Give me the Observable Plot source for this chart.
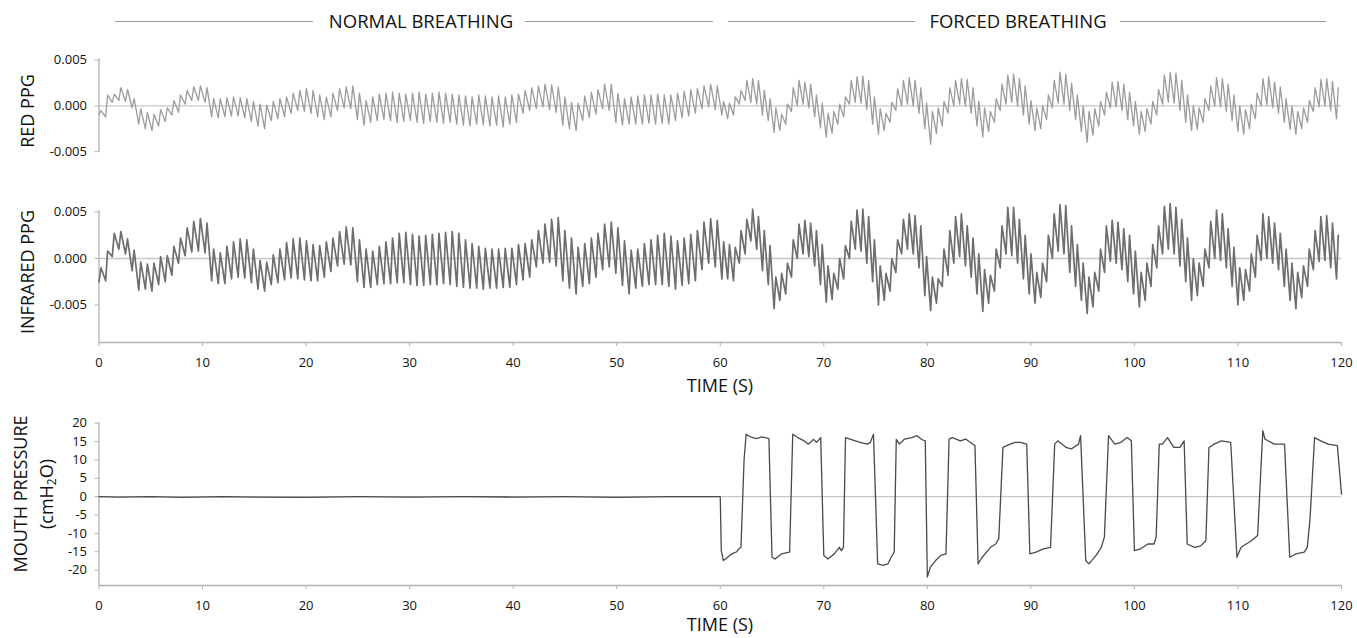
<!DOCTYPE html>
<html>
<head>
<meta charset="utf-8">
<script src="https://cdn.jsdelivr.net/npm/d3@7"></script>
<script src="https://cdn.jsdelivr.net/npm/@observablehq/plot@0.6"></script>
<style>
  html, body { margin: 0; padding: 0; background: #fff; overflow: hidden; }
  #wrap { position: relative; width: 1357px; height: 638px; overflow: hidden; font-family: "Open Sans", "DejaVu Sans", sans-serif; color: #111; }
  .panel { position: absolute; left: 0; }
  .hl { position: absolute; top: 21px; height: 1px; background: #9a9a9a; }
  .ht { position: absolute; top: 21px; transform: translate(-50%, -50%); font-size: 18.5px; line-height: 1; white-space: nowrap; }
  .lab { position: absolute; transform: translate(-50%, -50%); font-size: 18px; line-height: 1.2; white-space: nowrap; }
  .rot { position: absolute; transform: translate(-50%, -50%) rotate(-90deg); font-size: 18px; line-height: 1; white-space: nowrap; }
  sub { font-size: 12px; vertical-align: -3px; line-height: 0; }
</style>
</head>
<body>
<div id="wrap">
  <div class="hl" style="left:115px;width:198px"></div>
  <div class="ht" style="left:421px">NORMAL BREATHING</div>
  <div class="hl" style="left:525px;width:188px"></div>
  <div class="hl" style="left:728px;width:187px"></div>
  <div class="ht" style="left:1018px">FORCED BREATHING</div>
  <div class="hl" style="left:1120px;width:206px"></div>

  <div id="p1" class="panel" style="top:48px"></div>
  <div id="p2" class="panel" style="top:200px"></div>
  <div id="p3" class="panel" style="top:410px"></div>

  <div class="rot" style="left:27px;top:111px">RED PPG</div>
  <div class="rot" style="left:27px;top:272px">INFRARED PPG</div>
  <div class="rot" style="left:20px;top:494px">MOUTH PRESSURE</div>
  <div class="rot" style="left:46px;top:494px">(cmH<sub>2</sub>O)</div>
  <div class="lab" style="left:720px;top:386px">TIME (S)</div>
  <div class="lab" style="left:720px;top:625px">TIME (S)</div>
</div>
<script>
// ---------- tick labels ----------
const xTicks = [0, 10, 20, 30, 40, 50, 60, 70, 80, 90, 100, 110, 120];
const ppgTicks = [-0.005, 0, 0.005];
const pressureTicks = [-20, -15, -10, -5, 0, 5, 10, 15, 20];

// ---------- heart-beat timing (s) ----------
const beatStartNormal = 0, beatPeriodNormal = 0.64;
const beatStartForced = 60.16, beatPeriodForced = 0.56;

// ---------- INFRARED PPG : per-beat trough / peak values ----------
const irTroughNormal = [
-25e-4,-24e-4,2e-4,10e-4,5e-4,-13e-4,-34e-4,-33e-4,-35e-4,-28e-4,
-25e-4,-18e-4,-5e-4,3e-4,7e-4,8e-4,6e-4,-24e-4,-27e-4,-27e-4,
-22e-4,-20e-4,-21e-4,-26e-4,-33e-4,-35e-4,-28e-4,-26e-4,-23e-4,-21e-4,
-22e-4,-23e-4,-24e-4,-24e-4,-20e-4,-14e-4,-8e-4,-6e-4,-7e-4,-25e-4,
-31e-4,-31e-4,-28e-4,-27e-4,-27e-4,-26e-4,-26e-4,-28e-4,-29e-4,-29e-4,
-28e-4,-28e-4,-27e-4,-28e-4,-30e-4,-31e-4,-32e-4,-32e-4,-33e-4,-32e-4,
-32e-4,-31e-4,-31e-4,-28e-4,-23e-4,-20e-4,-9e-4,-5e-4,-4e-4,-8e-4,
-24e-4,-32e-4,-38e-4,-30e-4,-27e-4,-20e-4,-12e-4,-9e-4,-16e-4,-29e-4,
-38e-4,-32e-4,-30e-4,-28e-4,-28e-4,-28e-4,-30e-4,-33e-4,-29e-4,-27e-4,
-24e-4,-12e-4,-5e-4,-9e-4];
const irPeakNormal = [
-10e-4,8e-4,27e-4,29e-4,21e-4,9e-4,-4e-4,-6e-4,-5e-4,2e-4,
3e-4,13e-4,22e-4,33e-4,40e-4,43e-4,38e-4,10e-4,6e-4,13e-4,
18e-4,21e-4,20e-4,10e-4,-2e-4,-4e-4,4e-4,10e-4,17e-4,21e-4,
22e-4,19e-4,15e-4,14e-4,18e-4,22e-4,29e-4,34e-4,33e-4,20e-4,
10e-4,8e-4,13e-4,18e-4,22e-4,27e-4,28e-4,26e-4,24e-4,25e-4,
26e-4,27e-4,28e-4,29e-4,27e-4,20e-4,16e-4,13e-4,11e-4,10e-4,
10e-4,11e-4,11e-4,15e-4,16e-4,20e-4,30e-4,37e-4,42e-4,44e-4,
30e-4,22e-4,12e-4,16e-4,22e-4,27e-4,37e-4,39e-4,33e-4,19e-4,
9e-4,10e-4,16e-4,20e-4,25e-4,27e-4,24e-4,19e-4,22e-4,26e-4,
30e-4,39e-4,43e-4,41e-4];
const irTroughForced = [
-22e-4,-22e-4,-24e-4,-5e-4,5e-4,19e-4,10e-4,-13e-4,-28e-4,-54e-4,
-45e-4,-38e-4,-20e-4,0,5e-4,2e-4,-8e-4,-28e-4,-47e-4,-44e-4,
-33e-4,-22e-4,0,10e-4,8e-4,-5e-4,-25e-4,-50e-4,-45e-4,-35e-4,
-15e-4,5e-4,10e-4,5e-4,-10e-4,-40e-4,-56e-4,-48e-4,-30e-4,-18e-4,
-5e-4,2e-4,-8e-4,-20e-4,-38e-4,-57e-4,-48e-4,-35e-4,-10e-4,5e-4,
3e-4,-5e-4,-22e-4,-38e-4,-48e-4,-42e-4,-25e-4,0,8e-4,5e-4,
-15e-4,-30e-4,-45e-4,-59e-4,-52e-4,-35e-4,-15e-4,-3e-4,-5e-4,-12e-4,
-25e-4,-38e-4,-52e-4,-45e-4,-30e-4,-10e-4,5e-4,10e-4,5e-4,-8e-4,
-25e-4,-45e-4,-40e-4,-30e-4,-10e-4,0,-2e-4,-10e-4,-30e-4,-50e-4,
-45e-4,-35e-4,-20e-4,-2e-4,0,-5e-4,-12e-4,-30e-4,-45e-4,-54e-4,
-42e-4,-30e-4,-12e-4,-3e-4,-2e-4,-10e-4,-22e-4];
const irPeakForced = [
18e-4,15e-4,12e-4,30e-4,42e-4,53e-4,45e-4,30e-4,14e-4,-20e-4,
-16e-4,-5e-4,20e-4,37e-4,41e-4,38e-4,30e-4,15e-4,-8e-4,-16e-4,
0,14e-4,40e-4,52e-4,53e-4,45e-4,20e-4,-8e-4,-16e-4,0,
20e-4,42e-4,48e-4,46e-4,35e-4,2e-4,-20e-4,-22e-4,10e-4,30e-4,
45e-4,48e-4,35e-4,22e-4,5e-4,-12e-4,-18e-4,10e-4,35e-4,55e-4,
55e-4,42e-4,25e-4,5e-4,-15e-4,-5e-4,25e-4,48e-4,58e-4,57e-4,
35e-4,15e-4,-5e-4,-20e-4,-15e-4,10e-4,35e-4,41e-4,39e-4,32e-4,
25e-4,8e-4,-15e-4,-5e-4,15e-4,35e-4,56e-4,59e-4,55e-4,42e-4,
22e-4,0,-5e-4,10e-4,40e-4,52e-4,48e-4,32e-4,12e-4,-10e-4,
-12e-4,5e-4,25e-4,48e-4,45e-4,38e-4,27e-4,10e-4,-5e-4,-15e-4,
-8e-4,10e-4,30e-4,45e-4,46e-4,38e-4,25e-4];

// ---------- RED PPG : per-beat trough / peak values ----------
const redTroughNormal = [
-10e-4,-12e-4,4e-4,6e-4,5e-4,-2e-4,-20e-4,-25e-4,-27e-4,-22e-4,
-17e-4,-10e-4,-7e-4,2e-4,6e-4,6e-4,4e-4,-12e-4,-13e-4,-12e-4,
-11e-4,-11e-4,-13e-4,-17e-4,-22e-4,-25e-4,-16e-4,-14e-4,-12e-4,-8e-4,
-5e-4,-6e-4,-8e-4,-12e-4,-15e-4,-12e-4,-5e-4,-2e-4,-3e-4,-15e-4,
-21e-4,-18e-4,-16e-4,-15e-4,-16e-4,-18e-4,-17e-4,-16e-4,-18e-4,-19e-4,
-17e-4,-18e-4,-19e-4,-18e-4,-20e-4,-21e-4,-22e-4,-20e-4,-21e-4,-22e-4,
-21e-4,-23e-4,-20e-4,-18e-4,-8e-4,-5e-4,-3e-4,-1e-4,-4e-4,-7e-4,
-21e-4,-25e-4,-27e-4,-16e-4,-13e-4,-9e-4,-3e-4,-5e-4,-18e-4,-21e-4,
-20e-4,-20e-4,-20e-4,-19e-4,-20e-4,-19e-4,-20e-4,-16e-4,-13e-4,-11e-4,
-8e-4,-3e-4,-1e-4,-4e-4];
const redPeakNormal = [
-5e-4,12e-4,13e-4,20e-4,18e-4,8e-4,-3e-4,-7e-4,-9e-4,-4e-4,
-2e-4,6e-4,12e-4,17e-4,21e-4,22e-4,20e-4,8e-4,8e-4,9e-4,
10e-4,9e-4,8e-4,5e-4,2e-4,1e-4,5e-4,8e-4,10e-4,14e-4,
17e-4,19e-4,17e-4,12e-4,10e-4,14e-4,19e-4,21e-4,22e-4,14e-4,
6e-4,10e-4,13e-4,14e-4,15e-4,14e-4,13e-4,14e-4,15e-4,13e-4,
14e-4,15e-4,14e-4,13e-4,12e-4,11e-4,10e-4,12e-4,11e-4,10e-4,
11e-4,10e-4,12e-4,13e-4,17e-4,20e-4,22e-4,24e-4,23e-4,21e-4,
10e-4,4e-4,3e-4,11e-4,15e-4,18e-4,24e-4,24e-4,14e-4,8e-4,
10e-4,11e-4,12e-4,12e-4,13e-4,12e-4,12e-4,14e-4,16e-4,18e-4,
19e-4,22e-4,24e-4,22e-4];
const redTroughForced = [
-10e-4,-14e-4,-10e-4,2e-4,6e-4,4e-4,2e-4,-10e-4,-16e-4,-29e-4,
-27e-4,-20e-4,-6e-4,0,2e-4,-2e-4,-12e-4,-24e-4,-34e-4,-30e-4,
-20e-4,-12e-4,2e-4,4e-4,3e-4,-4e-4,-20e-4,-31e-4,-27e-4,-18e-4,
-5e-4,0,2e-4,0,-8e-4,-25e-4,-42e-4,-30e-4,-22e-4,-8e-4,
0,2e-4,0,-8e-4,-22e-4,-34e-4,-28e-4,-18e-4,-5e-4,2e-4,
4e-4,0,-10e-4,-20e-4,-27e-4,-25e-4,-15e-4,-2e-4,3e-4,2e-4,
-5e-4,-15e-4,-28e-4,-40e-4,-32e-4,-22e-4,-10e-4,-2e-4,-1e-4,-5e-4,
-15e-4,-22e-4,-31e-4,-28e-4,-20e-4,-10e-4,2e-4,4e-4,3e-4,-5e-4,
-18e-4,-27e-4,-26e-4,-18e-4,-5e-4,0,-1e-4,-6e-4,-16e-4,-28e-4,
-31e-4,-25e-4,-14e-4,0,1e-4,-2e-4,-8e-4,-18e-4,-26e-4,-31e-4,
-25e-4,-18e-4,-6e-4,-1e-4,0,-5e-4,-14e-4];
const redPeakForced = [
5e-4,3e-4,10e-4,17e-4,28e-4,30e-4,28e-4,17e-4,8e-4,-2e-4,
-9e-4,2e-4,20e-4,28e-4,26e-4,24e-4,12e-4,3e-4,-8e-4,-6e-4,
2e-4,10e-4,28e-4,32e-4,33e-4,28e-4,10e-4,-3e-4,-8e-4,4e-4,
19e-4,28e-4,31e-4,28e-4,20e-4,3e-4,-6e-4,-2e-4,5e-4,20e-4,
28e-4,30e-4,29e-4,20e-4,5e-4,-2e-4,-6e-4,8e-4,24e-4,34e-4,
35e-4,30e-4,22e-4,6e-4,-2e-4,0,12e-4,28e-4,37e-4,35e-4,
25e-4,12e-4,0,-6e-4,-3e-4,5e-4,15e-4,26e-4,27e-4,24e-4,
15e-4,5e-4,-6e-4,-3e-4,5e-4,18e-4,34e-4,37e-4,36e-4,28e-4,
12e-4,0,-2e-4,8e-4,22e-4,31e-4,30e-4,24e-4,12e-4,0,
-4e-4,2e-4,14e-4,30e-4,32e-4,26e-4,21e-4,8e-4,0,-6e-4,
-2e-4,6e-4,20e-4,29e-4,30e-4,27e-4,20e-4];

// ---------- MOUTH PRESSURE (cmH2O): [time s, value] ----------
const mouthPressure = [
[0,0],[2,-0.1],[5,0],[8,-0.2],[12,0],[15,-0.1],[20,-0.2],[25,0],[30,-0.1],[35,0],[40,-0.1],[45,0],[50,-0.2],[55,0],[59.9,0],
[60.0,0],[60.1,-14.7],[60.3,-17.4],[60.6,-16.8],[61.0,-15.8],[61.3,-15.4],[61.6,-15.0],[61.8,-14.2],[62.0,-13.8],[62.3,10],[62.5,17],[62.9,16.3],[63.5,15.8],[64.0,16.3],[64.7,15.8],
[65.0,-16.5],[65.3,-17.0],[65.9,-15.6],[66.7,-15.1],[67.0,17],[67.5,16.1],[68.1,15.2],[68.5,14.3],[69.0,15.6],[69.3,14.8],[69.7,16.1],
[70.0,-16],[70.4,-17],[71.0,-15.6],[71.5,-13.8],[71.7,-14.7],[71.9,-13.8],[72.1,16.1],[72.6,15.6],[73.5,14.8],[74.2,14.3],[74.5,14.8],[74.8,17],
[75.2,-18.3],[75.7,-18.7],[76.2,-18.3],[76.5,-16.5],[76.8,-15.1],[77.0,15.6],[77.3,14.3],[77.8,15.7],[78.5,16.1],[79.0,16.6],[79.5,15.5],[79.8,15.2],
[80.0,-21.9],[80.3,-19.2],[80.8,-17.4],[81.3,-16],[81.8,-15.6],[82.1,15.7],[82.4,16.1],[83.2,15.2],[83.7,15.7],[84.4,14.3],[84.6,13.9],
[84.9,-18.3],[85.3,-16.5],[86.1,-13.8],[86.6,-12.9],[86.9,-11.5],[87.3,13.4],[88.0,14.3],[88.5,14.8],[89.0,14.8],[89.6,14.3],
[89.9,-15.6],[90.5,-15.1],[91.2,-14.2],[91.9,-13.8],[92.3,14.3],[92.6,15.2],[93.4,13.4],[93.9,13.0],[94.6,14.3],[94.8,16.6],
[95.3,-17.4],[95.6,-18.3],[96.3,-16.0],[96.8,-13.8],[97.1,-11.0],[97.5,16.6],[98.1,14.3],[98.7,14.8],[99.3,16.1],[99.7,15.2],
[100.0,-14.7],[100.6,-14.2],[101.3,-12.9],[101.9,-12.9],[102.1,-11.0],[102.4,14.3],[102.7,14.3],[103.2,16.1],[103.8,13.4],[104.4,13.4],[104.8,15.2],
[105.1,-12.9],[105.8,-13.8],[106.4,-13.4],[106.9,-12.0],[107.2,13.4],[107.7,14.3],[108.4,15.2],[109.3,14.8],
[109.9,-16.5],[110.3,-13.8],[111.3,-12.0],[111.9,-10.6],[112.4,18.0],[112.6,15.7],[113.5,14.3],[114.5,14.3],
[115.0,-16.5],[115.6,-15.6],[116.4,-15.1],[116.7,-13.8],[116.96,-6.1],[117.4,16.1],[118.0,15.2],[118.7,14.3],[119.6,13.9],[120.0,0.7]
];

// ---------- build tables ----------
const PEAK_PHASE = 0.3; // fraction of the beat at which the peak occurs
function beatSeries(start, period, troughs, peaks) {
  const out = [];
  troughs.forEach((q, i) => {
    const t = start + i * period;
    out.push({t, v: q});
    out.push({t: t + period * PEAK_PHASE, v: peaks[i]});
  });
  return out;
}
const redData = [
  ...beatSeries(beatStartNormal, beatPeriodNormal, redTroughNormal, redPeakNormal),
  ...beatSeries(beatStartForced, beatPeriodForced, redTroughForced, redPeakForced)
];
const irData = [
  ...beatSeries(beatStartNormal, beatPeriodNormal, irTroughNormal, irPeakNormal),
  ...beatSeries(beatStartForced, beatPeriodForced, irTroughForced, irPeakForced)
];
const pressureData = mouthPressure.map(([t, v]) => ({t, v}));

// ---------- styling ----------
const W = 1357;
const FONT = '"Open Sans", "DejaVu Sans", sans-serif';
const AXIS = "#b2b2b2";
const ZERO = "#c8c8c8";
const style = {fontFamily: FONT, fontSize: "13px", color: "#111", background: "transparent", overflow: "visible"};

function panel({data, stroke, strokeWidth, yDomain, yTicks, yFormat, height, marginTop, marginBottom, showX}) {
  const marks = [
    Plot.ruleY([0], {stroke: ZERO, strokeWidth: 1.3}),
    Plot.ruleX([0], {stroke: AXIS, strokeWidth: 1.3}),
    Plot.axisY(yTicks, {anchor: "left", tickSize: 4, tickPadding: 8, tickFormat: yFormat, stroke: AXIS, fill: "#111", label: null})
  ];
  if (showX) {
    marks.push(Plot.ruleY([yDomain[0]], {stroke: AXIS, strokeWidth: 1.3}));
    marks.push(Plot.axisX(xTicks, {anchor: "bottom", tickSize: 4, tickPadding: 11, tickFormat: d => String(d), stroke: AXIS, fill: "#111", label: null}));
  }
  marks.push(Plot.line(data, {x: "t", y: "v", stroke, strokeWidth, strokeLinejoin: "round"}));
  return Plot.plot({
    width: W, height, marginLeft: 98.5, marginRight: 16, marginTop, marginBottom,
    x: showX ? {domain: [0, 120]} : {domain: [0, 120], axis: null},
    y: {domain: yDomain},
    style,
    marks
  });
}

document.getElementById("p1").append(panel({
  data: redData, stroke: "#9c9c9c", strokeWidth: 1.3,
  yDomain: [-0.0051, 0.0052], yTicks: ppgTicks, yFormat: d => d.toFixed(3),
  height: 114, marginTop: 10, marginBottom: 10, showX: false
}));
document.getElementById("p2").append(panel({
  data: irData, stroke: "#6e6e6e", strokeWidth: 1.7,
  yDomain: [-0.00903, 0.00516], yTicks: ppgTicks, yFormat: d => d.toFixed(3),
  height: 200, marginTop: 10, marginBottom: 58, showX: true
}));
document.getElementById("p3").append(panel({
  data: pressureData, stroke: "#4a4a4a", strokeWidth: 1.3,
  yDomain: [-24.2, 20.2], yTicks: pressureTicks, yFormat: d => String(d),
  height: 228, marginTop: 12, marginBottom: 53, showX: true
}));
</script>
</body>
</html>
